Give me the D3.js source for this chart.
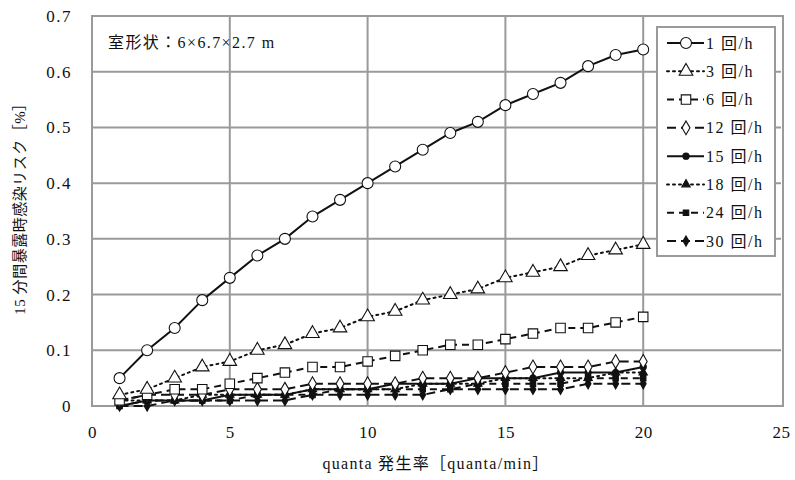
<!DOCTYPE html>
<html>
<head>
<meta charset="utf-8">
<script src="https://cdn.jsdelivr.net/npm/d3@7"></script>
<style>
  html, body { margin: 0; padding: 0; background: #fff; }
  svg { display: block; }
  text { font-family: "Liberation Serif", "DejaVu Serif", "Noto Sans CJK JP", serif; fill: #111; }
</style>
</head>
<body>
<svg id="chart" width="795" height="480"></svg>
<script>
// quanta generation rate [quanta/min]
const quanta = [1,2,3,4,5,6,7,8,9,10,11,12,13,14,15,16,17,18,19,20];

// 15-minute exposure infection risk [%] per air-change rate
const risk1  = [0.05,0.10,0.14,0.19,0.23,0.27,0.30,0.34,0.37,0.40,0.43,0.46,0.49,0.51,0.54,0.56,0.58,0.61,0.63,0.64];
const risk3  = [0.02,0.03,0.05,0.07,0.08,0.10,0.11,0.13,0.14,0.16,0.17,0.19,0.20,0.21,0.23,0.24,0.25,0.27,0.28,0.29];
const risk6  = [0.01,0.02,0.03,0.03,0.04,0.05,0.06,0.07,0.07,0.08,0.09,0.10,0.11,0.11,0.12,0.13,0.14,0.14,0.15,0.16];
const risk12 = [0.01,0.02,0.02,0.02,0.03,0.03,0.03,0.04,0.04,0.04,0.04,0.05,0.05,0.05,0.06,0.07,0.07,0.07,0.08,0.08];
const risk15 = [0.00,0.01,0.01,0.01,0.02,0.02,0.02,0.03,0.03,0.03,0.04,0.04,0.04,0.05,0.05,0.05,0.06,0.06,0.06,0.07];
const risk18 = [0.01,0.01,0.01,0.02,0.02,0.02,0.02,0.03,0.03,0.03,0.03,0.04,0.04,0.04,0.05,0.05,0.05,0.05,0.06,0.06];
const risk24 = [0.00,0.01,0.01,0.01,0.01,0.02,0.02,0.02,0.03,0.03,0.03,0.03,0.03,0.04,0.04,0.04,0.04,0.05,0.05,0.05];
const risk30 = [0.00,0.00,0.01,0.01,0.01,0.01,0.01,0.02,0.02,0.02,0.02,0.02,0.03,0.03,0.03,0.03,0.03,0.04,0.04,0.04];

const seriesNames = ["1 回/h","3 回/h","6 回/h","12 回/h","15 回/h","18 回/h","24 回/h","30 回/h"];
const xTicks = [0,5,10,15,20,25];
const yTicks = [0,0.1,0.2,0.3,0.4,0.5,0.6,0.7];
const yTickLabels = ["0","0.1","0.2","0.3","0.4","0.5","0.6","0.7"];

const xTitle = "quanta 発生率［quanta/min］";
const yTitle = "15 分間暴露時感染リスク［%］";
const roomNote = "室形状：6×6.7×2.7 m";

// line / marker styling per series
const styles = [
  { dash: null,   shape: d3.symbolCircle,   fill: "#fff", size: 95 },
  { dash: "2,4",  shape: d3.symbolTriangle, fill: "#fff", size: 80 },
  { dash: "7,5",  shape: d3.symbolSquare,   fill: "#fff", size: 90 },
  { dash: "9,5",  shape: d3.symbolDiamond,  fill: "#fff", size: 55 },
  { dash: null,   shape: d3.symbolCircle,   fill: "#111", size: 30 },
  { dash: "2,4",  shape: d3.symbolTriangle, fill: "#111", size: 30 },
  { dash: "7,5",  shape: d3.symbolSquare,   fill: "#111", size: 30 },
  { dash: "9,5",  shape: d3.symbolDiamond,  fill: "#111", size: 30 }
];

const allRisk = [risk1, risk3, risk6, risk12, risk15, risk18, risk24, risk30];
const series = allRisk.map((vals, i) => ({
  name: seriesNames[i],
  style: styles[i],
  points: quanta.map((q, j) => ({ x: q, y: vals[j] }))
}));

const svg = d3.select("#chart");
const plotLeft = 92, plotRight = 781, plotTop = 16, plotBottom = 406;

const x = d3.scaleLinear().domain([0, 25]).range([plotLeft, plotRight]);
const y = d3.scaleLinear().domain([0, 0.7]).range([plotBottom, plotTop]);

const gridColor = "#9a9a9a";

// gridlines
svg.append("g")
  .selectAll("line")
  .data(yTicks.slice(1, -1))
  .join("line")
  .attr("x1", plotLeft).attr("x2", plotRight)
  .attr("y1", d => y(d)).attr("y2", d => y(d))
  .attr("stroke", gridColor).attr("stroke-width", 2);

svg.append("g")
  .selectAll("line")
  .data(xTicks.slice(1, -1))
  .join("line")
  .attr("x1", d => x(d)).attr("x2", d => x(d))
  .attr("y1", plotTop).attr("y2", plotBottom)
  .attr("stroke", gridColor).attr("stroke-width", 2);

// plot frame
svg.append("rect")
  .attr("x", plotLeft).attr("y", plotTop)
  .attr("width", plotRight - plotLeft + 2).attr("height", plotBottom - plotTop)
  .attr("fill", "none").attr("stroke", gridColor).attr("stroke-width", 2);

// axes (labels only, the frame draws the lines)
const xAxis = d3.axisBottom(x).tickValues(xTicks).tickSize(0).tickPadding(0).tickFormat(d3.format("d"));
const gx = svg.append("g").attr("transform", `translate(0,${plotBottom + 26})`).call(xAxis);
gx.select(".domain").remove();
gx.selectAll("text").attr("font-size", 17).attr("dy", "0.35em")
  .style("font-family", "Liberation Serif, serif").style("letter-spacing", "0.5px").attr("fill", "#111");

const yAxis = d3.axisLeft(y).tickValues(yTicks).tickSize(0).tickPadding(0)
  .tickFormat((d, i) => yTickLabels[i]);
const gy = svg.append("g").attr("transform", `translate(${plotLeft - 20},0)`).call(yAxis);
gy.select(".domain").remove();
gy.selectAll("text").attr("font-size", 17)
  .style("font-family", "Liberation Serif, serif").style("letter-spacing", "1.5px").attr("fill", "#111");

// series lines
const line = d3.line().x(d => x(d.x)).y(d => y(d.y));
const sg = svg.append("g");
series.slice().reverse().forEach(s => {
  sg.append("path")
    .datum(s.points)
    .attr("d", line)
    .attr("fill", "none")
    .attr("stroke", "#111")
    .attr("stroke-width", 2)
    .attr("stroke-dasharray", s.style.dash)
    .attr("stroke-linecap", s.style.dash === "2,4" ? "round" : "butt");
});

// series markers
series.slice().reverse().forEach(s => {
  const sym = d3.symbol().type(s.style.shape).size(s.style.size);
  sg.append("g").selectAll("path")
    .data(s.points)
    .join("path")
    .attr("transform", d => `translate(${x(d.x)},${y(d.y)})`)
    .attr("d", sym)
    .attr("fill", s.style.fill)
    .attr("stroke", "#111")
    .attr("stroke-width", 1.1);
});

// room size note
svg.append("text")
  .attr("x", 108).attr("y", 48)
  .attr("font-size", 16)
  .style("letter-spacing", "1.4px")
  .text(roomNote);

// legend
const lg = svg.append("g");
lg.append("rect")
  .attr("x", 657).attr("y", 27).attr("width", 118).attr("height", 229)
  .attr("fill", "#fff").attr("stroke", gridColor).attr("stroke-width", 2);

const ly = d3.scaleLinear().domain([0, 7]).range([43, 241]);
series.forEach((s, i) => {
  const cy = ly(i);
  lg.append("line")
    .attr("x1", 667).attr("x2", 704)
    .attr("y1", cy).attr("y2", cy)
    .attr("stroke", "#111").attr("stroke-width", 2)
    .attr("stroke-dasharray", s.style.dash)
    .attr("stroke-linecap", s.style.dash === "2,4" ? "round" : "butt");
  lg.append("path")
    .attr("transform", `translate(686,${cy})`)
    .attr("d", d3.symbol().type(s.style.shape).size(s.style.size)())
    .attr("fill", s.style.fill)
    .attr("stroke", "#111")
    .attr("stroke-width", 1.1);
  lg.append("text")
    .attr("x", 706).attr("y", cy)
    .attr("dy", "0.35em")
    .attr("font-size", 16)
    .style("letter-spacing", "1.5px")
    .text(s.name);
});

// axis titles
svg.append("text")
  .attr("x", 436).attr("y", 469)
  .attr("text-anchor", "middle")
  .attr("font-size", 16)
  .style("letter-spacing", "1.3px")
  .text(xTitle);

svg.append("text")
  .attr("transform", "translate(20,205) rotate(-90)")
  .attr("text-anchor", "middle")
  .attr("dy", "0.35em")
  .attr("font-size", 15)
  .style("letter-spacing", "0.5px")
  .text(yTitle);
</script>
</body>
</html>
